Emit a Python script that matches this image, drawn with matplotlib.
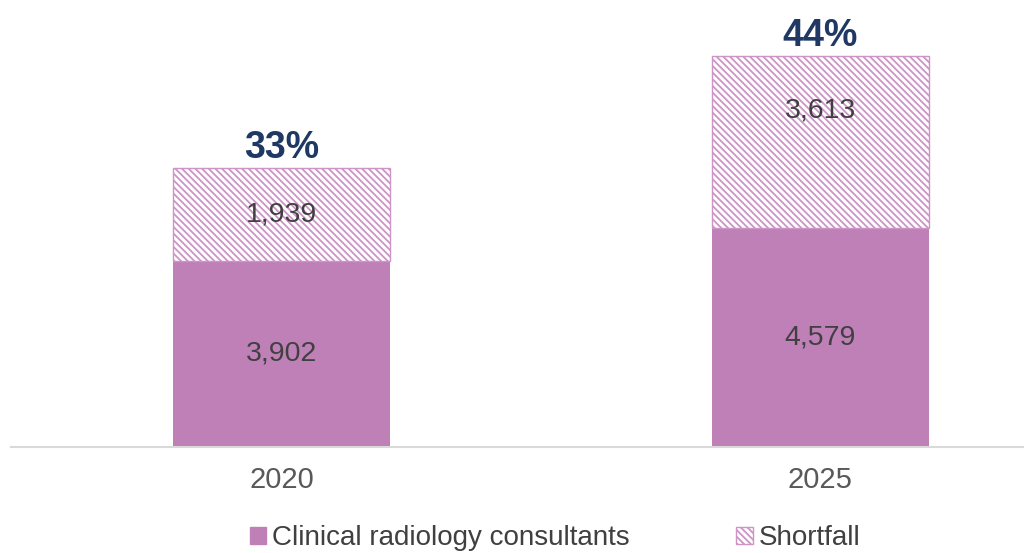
import matplotlib.pyplot as plt
from matplotlib.patches import Patch

plt.rcParams['font.family'] = ['Liberation Sans', 'DejaVu Sans']
plt.rcParams['hatch.linewidth'] = 1.3

years = ['2020', '2025']
consultants = [3902, 4579]
shortfall = [1939, 3613]
shortfall_pct = ['33%', '44%']
# where the shortfall label sits inside its segment (fraction from bottom)
label_pos = [0.5, 0.68]

purple = '#BF80B8'
hatch_col = '#CD94C6'
plt.rcParams['hatch.color'] = hatch_col

fig = plt.figure(figsize=(10.24, 5.53), dpi=100)
ax = fig.add_axes([11 / 1024, (553 - 447) / 553, 1 - 11 / 1024, 447 / 553])

x = range(len(years))
ax.bar(x, consultants, width=0.403, color=purple, edgecolor=purple, linewidth=0)
ax.bar(x, shortfall, width=0.403, bottom=consultants, color='white',
       edgecolor=hatch_col, hatch='\\' * 5, linewidth=1.0)

for i in x:
    ax.text(i, consultants[i] / 2, f'{consultants[i]:,}', ha='center', va='center',
            fontsize=20.5, color='#404040')
    ax.text(i, consultants[i] + shortfall[i] * label_pos[i], f'{shortfall[i]:,}',
            ha='center', va='center', fontsize=20.5, color='#404040')
    ax.text(i, consultants[i] + shortfall[i] + 40, shortfall_pct[i], ha='center',
            va='bottom', fontsize=27, fontweight='bold', color='#1F3864')

ax.set_xlim(-0.502, 1.378)
ax.set_ylim(0, 9360)
ax.set_xticks(list(x))
ax.set_xticklabels(years, fontsize=21, color='#595959')
ax.tick_params(axis='x', length=0, pad=14)
ax.set_yticks([])
for s in ['top', 'right', 'left']:
    ax.spines[s].set_visible(False)
ax.spines['bottom'].set_color('#D9D9D9')
ax.spines['bottom'].set_linewidth(1.5)

handles = [Patch(facecolor=purple, edgecolor=purple),
           Patch(facecolor='white', edgecolor=hatch_col, hatch='\\' * 5)]
fig.legend(handles, ['Clinical radiology consultants', 'Shortfall'],
           loc='center', bbox_to_anchor=(0.542, 0.027), ncol=2, frameon=False,
           fontsize=20, handlelength=0.58, handleheight=0.58, handletextpad=0.22,
           columnspacing=3.85, labelcolor='#404040')

fig.savefig('out.png', dpi=100)
